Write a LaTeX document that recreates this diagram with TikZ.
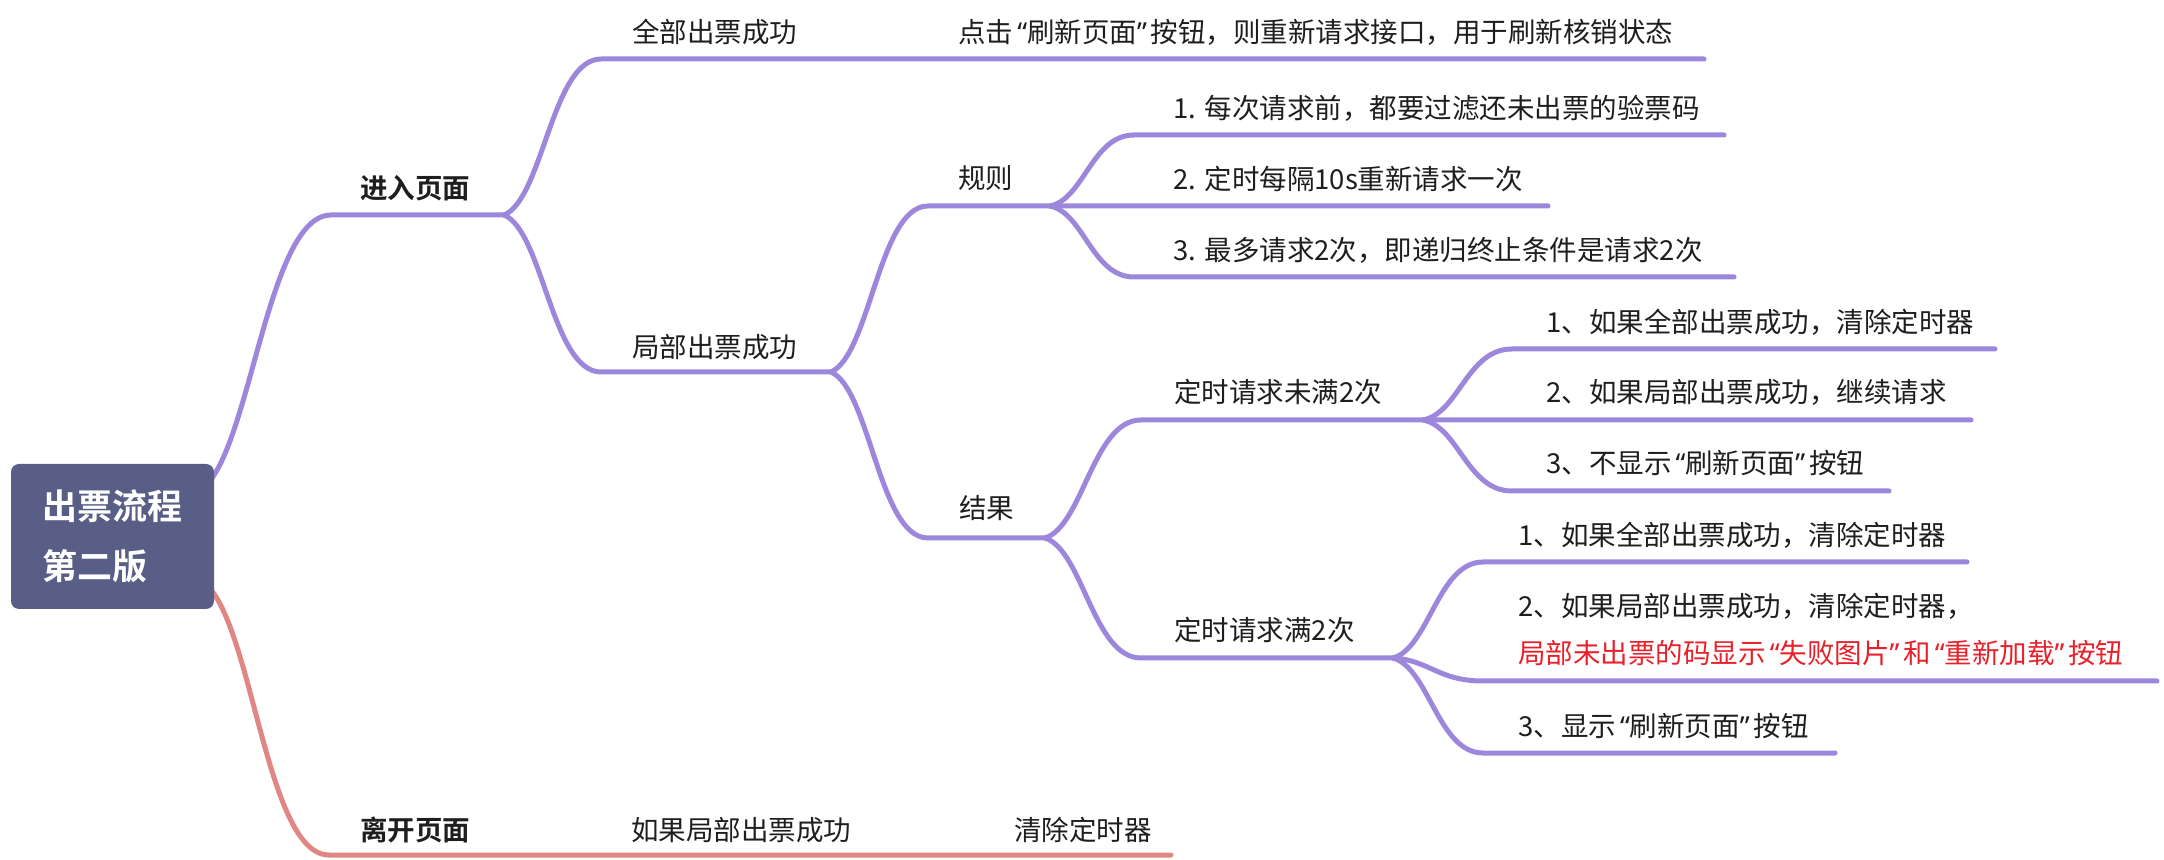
\documentclass[tikz,border=0pt]{standalone}
\usepackage{fontspec}
\newfontfamily\cjk{Noto Sans CJK SC}[BoldFont={Noto Sans CJK SC Bold}]
\newfontfamily\latq{Noto Sans}
\newcommand\oq{\makebox[0.5em][r]{\latq “}}
\newcommand\cq{\makebox[0.5em][l]{\latq ”}}
\definecolor{pur}{HTML}{9D87DC}
\definecolor{sal}{HTML}{E08783}
\definecolor{rootc}{HTML}{585E86}
\definecolor{txt}{HTML}{1E1E1E}
\definecolor{redt}{HTML}{E8202A}
\tikzset{
  lbl/.style={anchor=west, inner sep=0pt, text=txt, font=\cjk\fontsize{13.75pt}{16pt}\selectfont},
  lblb/.style={lbl, font=\cjk\bfseries\fontsize{13.75pt}{16pt}\selectfont},
  br/.style={draw=pur, line width=2.5pt, line cap=round},
  brr/.style={draw=sal, line width=2.5pt, line cap=round},
  rootbox/.style={fill=rootc, rounded corners=4pt, minimum width=101.5pt, minimum height=72.5pt,
    align=left, text=white, inner sep=0pt, font=\cjk\bfseries\fontsize{17.5pt}{30pt}\selectfont}
}
\begin{document}
\begin{tikzpicture}[x=0.5pt, y=-0.5pt]
\useasboundingbox (0,0) rectangle (2164,860);
% coordinates
\coordinate (ts) at (200,490);
\coordinate (te) at (331,215);
\coordinate (rs) at (200,580);
\coordinate (re) at (329,855);
\coordinate (f1) at (504,215);
\coordinate (a1) at (601,59);  \coordinate (a1e) at (1704,59);
\coordinate (b1) at (601,372); \coordinate (f2) at (831,372);
\coordinate (c1) at (928,206); \coordinate (f3) at (1050,206); \coordinate (c1e) at (1548,206);
\coordinate (r1) at (1134,135); \coordinate (r1e) at (1724,135);
\coordinate (r3) at (1134,277); \coordinate (r3e) at (1734,277);
\coordinate (d1) at (928,538); \coordinate (f4) at (1045,538);
\coordinate (u1) at (1141,420); \coordinate (f5) at (1423,420); \coordinate (u1e) at (1971,420);
\coordinate (u0) at (1512,349); \coordinate (u0e) at (1995,349);
\coordinate (u3) at (1512,491); \coordinate (u3e) at (1889,491);
\coordinate (m1) at (1141,658); \coordinate (f6) at (1393,658);
\coordinate (m0) at (1483,562); \coordinate (m0e) at (1967,562);
\coordinate (m2) at (1483,681); \coordinate (m2e) at (2157,681);
\coordinate (m3) at (1483,753); \coordinate (m3e) at (1835,753);
\coordinate (ree) at (1171,855);
% branches
\draw[br] (ts) .. controls +(50,-30) and +(-65,0) .. (te) -- (f1);
\draw[brr] (rs) .. controls +(52,28) and +(-65,0) .. (re) -- (ree);
\draw[br] (f1) .. controls +(39,-16) and +(-49,0) .. (a1) -- (a1e);
\draw[br] (f1) .. controls +(39,16) and +(-49,0) .. (b1) -- (f2);
\draw[br] (f2) .. controls +(39,-17) and +(-49,0) .. (c1) -- (f3) -- (c1e);
\draw[br] (f2) .. controls +(39,17) and +(-49,0) .. (d1) -- (f4);
\draw[br] (f3) .. controls +(34,-7) and +(-42,0) .. (r1) -- (r1e);
\draw[br] (f3) .. controls +(34,7) and +(-42,0) .. (r3) -- (r3e);
\draw[br] (f4) .. controls +(38,-12) and +(-48,0) .. (u1) -- (f5) -- (u1e);
\draw[br] (f4) .. controls +(38,12) and +(-48,0) .. (m1) -- (f6);
\draw[br] (f5) .. controls +(36,-7) and +(-45,0) .. (u0) -- (u0e);
\draw[br] (f5) .. controls +(36,7) and +(-45,0) .. (u3) -- (u3e);
\draw[br] (f6) .. controls +(36,-10) and +(-45,0) .. (m0) -- (m0e);
\draw[br] (f6) .. controls +(36,2) and +(-45,0) .. (m2) -- (m2e);
\draw[br] (f6) .. controls +(36,10) and +(-45,0) .. (m3) -- (m3e);
% root
\node[rootbox] (root) at (112.5,536.5) {出票流程\\第二版};
% labels
\node[lblb] (n1) at (360,188) {进入页面};
\node[lblb] (n2) at (360,830) {离开页面};
\node[lbl] (n21) at (631,830) {如果局部出票成功};
\node[lbl] (n211) at (1014,830) {清除定时器};
\node[lbl] (n11) at (632,32) {全部出票成功};
\node[lbl] (n111) at (958,32) {点击\oq 刷新页面\cq 按钮，则重新请求接口，用于刷新核销状态};
\node[lbl] (n12) at (632,347) {局部出票成功};
\node[lbl] (n121) at (958,178) {规则};
\node[lbl] (g1) at (1173,108) {1. 每次请求前，都要过滤还未出票的验票码};
\node[lbl] (g2) at (1173,179) {2. 定时每隔10s重新请求一次};
\node[lbl] (g3) at (1173,250) {3. 最多请求2次，即递归终止条件是请求2次};
\node[lbl] (n122) at (959,508) {结果};
\node[lbl] (p1) at (1174,392) {定时请求未满2次};
\node[lbl] (p11) at (1546,322) {1、如果全部出票成功，清除定时器};
\node[lbl] (p12) at (1546,392) {2、如果局部出票成功，继续请求};
\node[lbl] (p13) at (1546,463) {3、不显示\oq 刷新页面\cq 按钮};
\node[lbl] (p2) at (1174,630) {定时请求满2次};
\node[lbl] (p21) at (1518,535) {1、如果全部出票成功，清除定时器};
\node[lbl] (p22) at (1518,606) {2、如果局部出票成功，清除定时器，};
\node[lbl, text=redt] (p22r) at (1518,653) {局部未出票的码显示\oq 失败图片\cq 和\oq 重新加载\cq 按钮};
\node[lbl] (p23) at (1518,726) {3、显示\oq 刷新页面\cq 按钮};
\end{tikzpicture}
\end{document}
